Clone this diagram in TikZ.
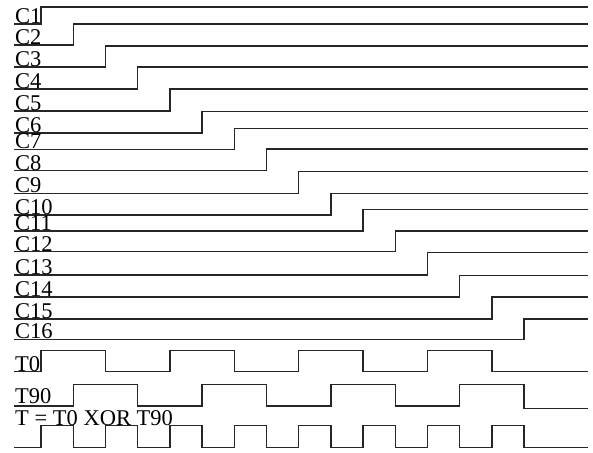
\documentclass[tikz,border=0pt]{standalone}
\usepackage{fontspec}
\setmainfont{Liberation Serif}
\begin{document}
\begin{tikzpicture}[x=1pt,y=-1pt,
  wave/.style={line width=1.4pt,line join=miter,black!85},
  lbl/.style={anchor=base west,inner sep=0pt,font=\fontsize{22.5}{22.5}\selectfont}]
\useasboundingbox (0,0) rectangle (593,452);
\fill[white] (0,0) rectangle (593,452);
% C signals: index/high/low/step
\foreach \k/\h/\l/\s in {1/7/24/41,2/24/45/73.2,3/46/67/105.4,4/67/89/137.6,5/89/111/169.8,
  6/111.7/133/202,7/128.3/149.3/234.2,8/149/170.7/266.4,9/171.7/193.3/298.6,10/193.7/215/330.8,
  11/209.3/231/363,12/231/251.7/395.2,13/252.7/275/427.4,14/275.3/297/459.6,15/297/319/491.8,16/319/339.3/524}{
  \draw[wave] (14,\l) -- (\s,\l) -- (\s,\h) -- (588,\h);
  \node[lbl] (c\k) at (15,\l-0.5) {C\k};
}
% T0
\draw[wave] (14,371.7) -- (41,371.7) -- (41,350.7) -- (105.4,350.7) -- (105.4,371.7)
  -- (169.8,371.7) -- (169.8,350.7) -- (234.2,350.7) -- (234.2,371.7)
  -- (298.6,371.7) -- (298.6,350.7) -- (363,350.7) -- (363,371.7)
  -- (427.4,371.7) -- (427.4,350.7) -- (491.8,350.7) -- (491.8,371.7) -- (588,371.7);
\node[lbl] (t0) at (15,371) {T0};
% T90
\draw[wave] (14,406) -- (73.2,406) -- (73.2,384.5) -- (137.6,384.5) -- (137.6,406)
  -- (202,406) -- (202,384.5) -- (266.4,384.5) -- (266.4,406)
  -- (330.8,406) -- (330.8,384.5) -- (395.2,384.5) -- (395.2,406)
  -- (459.6,406) -- (459.6,384.5) -- (524,384.5) -- (524,408.3) -- (588,408.3);
\node[lbl] (t90) at (15,403) {T90};
% T = T0 XOR T90
\draw[wave] (14,447.7) -- (41,447.7)
  -- (41,425.7) -- (73.2,425.7) -- (73.2,447.7) -- (105.4,447.7)
  -- (105.4,425.7) -- (137.6,425.7) -- (137.6,447.7) -- (169.8,447.7)
  -- (169.8,425.7) -- (202,425.7) -- (202,447.7) -- (234.2,447.7)
  -- (234.2,425.7) -- (266.4,425.7) -- (266.4,447.7) -- (298.6,447.7)
  -- (298.6,425.7) -- (330.8,425.7) -- (330.8,447.7) -- (363,447.7)
  -- (363,425.7) -- (395.2,425.7) -- (395.2,447.7) -- (427.4,447.7)
  -- (427.4,425.7) -- (459.6,425.7) -- (459.6,447.7) -- (491.8,447.7)
  -- (491.8,425.7) -- (524,425.7) -- (524,447.7) -- (588,447.7);
\node[lbl] (txor) at (15,425) {T = T0 XOR T90};
\end{tikzpicture}
\end{document}
